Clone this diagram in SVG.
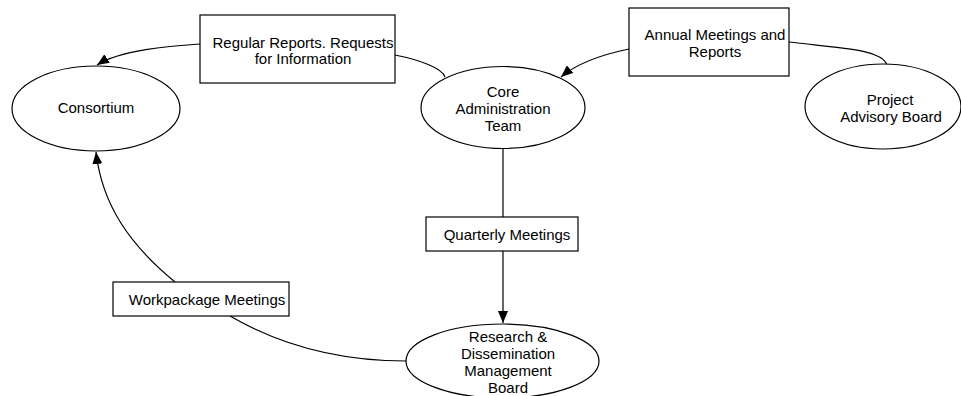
<svg xmlns="http://www.w3.org/2000/svg" width="961" height="396" viewBox="0 0 961 396">
<style>
.shape{fill:#fff;stroke:#000;stroke-width:1.2}
.conn{fill:none;stroke:#000;stroke-width:1.2}
text{font-family:"Liberation Sans",Arial,sans-serif;font-size:15px;fill:#000;text-anchor:middle}
</style>
<defs>
<marker id="arr" viewBox="0 0 12 10" refX="12" refY="5" markerWidth="12" markerHeight="10" markerUnits="userSpaceOnUse" orient="auto">
<path d="M0,0 L12,5 L0,10 Z" fill="#000"/>
</marker>
</defs>
<g id="connectors">
<path class="conn" d="M200,44 C170,46 120,50 97,65" marker-end="url(#arr)"/>
<path class="conn" d="M395,55 C420,60 442,68 445,77"/>
<path class="conn" d="M629,49 C600,55 575,65 561,77" marker-end="url(#arr)"/>
<path class="conn" d="M789,42 C820,46 860,48 875,55 C883,58 886,62 887,65"/>
<path class="conn" d="M503,148 L503,217"/>
<path class="conn" d="M503,251 L503,323" marker-end="url(#arr)"/>
<path class="conn" d="M406,361 C340,361 280,345 230,316"/>
<path class="conn" d="M175,282 C130,245 102,205 96,152" marker-end="url(#arr)"/>
</g>
<g id="consortium">
<ellipse class="shape" cx="96" cy="108.5" rx="84" ry="42.5"/>
<text x="96" y="113">Consortium</text>
</g>
<g id="core-admin">
<ellipse class="shape" cx="503" cy="107.5" rx="82" ry="41"/>
<text x="503" y="97">Core</text>
<text x="503" y="114">Administration</text>
<text x="503" y="131">Team</text>
</g>
<g id="advisory">
<ellipse class="shape" cx="883" cy="106.5" rx="78" ry="42.5"/>
<text x="890" y="105">Project</text>
<text x="891" y="122">Advisory Board</text>
</g>
<g id="rdmb">
<ellipse class="shape" cx="502.5" cy="361" rx="96.5" ry="37"/>
<text x="508" y="342">Research &amp;</text>
<text x="508" y="359">Dissemination</text>
<text x="508" y="376">Management</text>
<text x="508" y="393">Board</text>
</g>
<g id="regular-reports">
<rect class="shape" x="200" y="15" width="195" height="68"/>
<text x="303" y="48">Regular Reports. Requests</text>
<text x="303" y="64">for Information</text>
</g>
<g id="annual-meetings">
<rect class="shape" x="629" y="8" width="160" height="68"/>
<text x="715" y="40">Annual Meetings and</text>
<text x="715" y="57">Reports</text>
</g>
<g id="quarterly">
<rect class="shape" x="426" y="217" width="152" height="34"/>
<text x="507" y="240">Quarterly Meetings</text>
</g>
<g id="workpackage">
<rect class="shape" x="113" y="282" width="176" height="34"/>
<text x="207" y="305">Workpackage Meetings</text>
</g>
</svg>
